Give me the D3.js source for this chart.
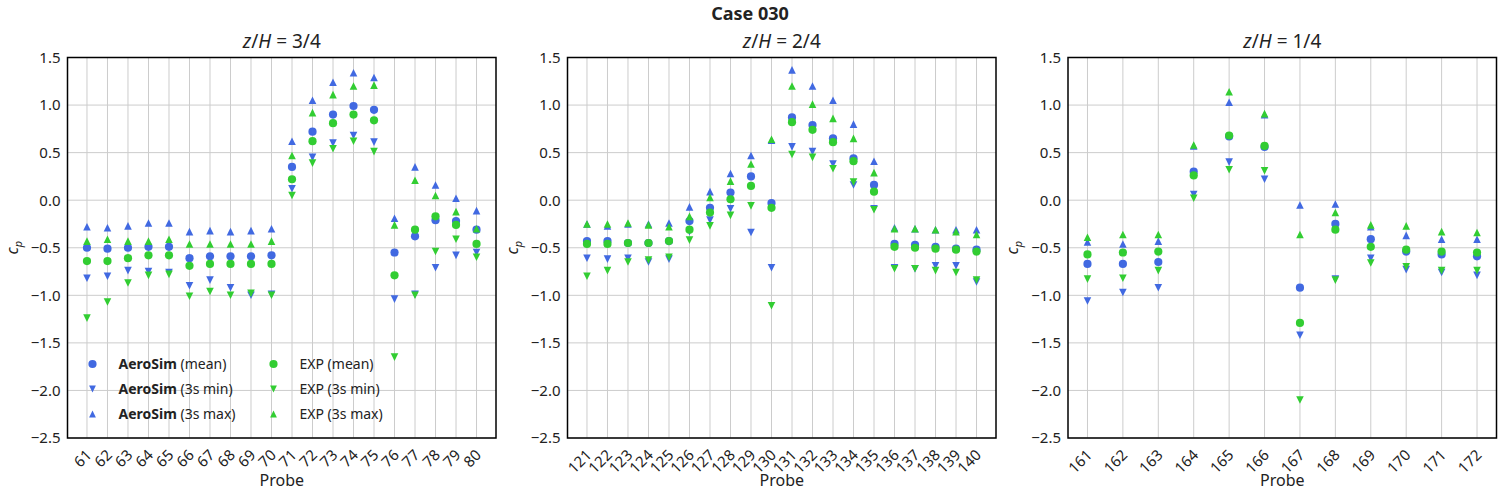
<!DOCTYPE html>
<html>
<head>
<meta charset="utf-8">
<script src="https://cdn.jsdelivr.net/npm/d3@7"></script>
<style>
  body { margin: 0; background: #fff; }
  svg { display: block; font-family: "Noto Sans", "Open Sans", sans-serif; }
</style>
</head>
<body>
<svg id="chart" width="1500" height="500"></svg>
<script>
// ---------- DATA ----------
const suptitle = "Case 030";
const panelTitles = [["3/4"], ["2/4"], ["1/4"]];
const yTicks = [1.5, 1.0, 0.5, 0.0, -0.5, -1.0, -1.5, -2.0, -2.5];

const probes1 = [61,62,63,64,65,66,67,68,69,70,71,72,73,74,75,76,77,78,79,80];
const aeroMean1 = [-0.50,-0.51,-0.50,-0.49,-0.49,-0.61,-0.59,-0.59,-0.59,-0.58,0.35,0.72,0.90,0.99,0.95,-0.55,-0.38,-0.21,-0.22,-0.31];
const aeroMin1  = [-0.82,-0.80,-0.74,-0.75,-0.76,-0.90,-0.84,-0.92,-1.00,-0.99,0.12,0.45,0.60,0.68,0.61,-1.04,-0.99,-0.71,-0.58,-0.55];
const aeroMax1  = [-0.28,-0.29,-0.27,-0.24,-0.24,-0.33,-0.32,-0.33,-0.32,-0.30,0.62,1.05,1.24,1.34,1.29,-0.19,0.35,0.16,0.02,-0.11];
const expMean1  = [-0.64,-0.64,-0.61,-0.58,-0.58,-0.69,-0.67,-0.67,-0.67,-0.67,0.22,0.62,0.81,0.90,0.84,-0.79,-0.31,-0.17,-0.26,-0.46];
const expMin1   = [-1.24,-1.07,-0.87,-0.79,-0.78,-1.01,-0.96,-1.00,-0.98,-1.00,0.05,0.39,0.54,0.62,0.51,-1.65,-1.00,-0.54,-0.41,-0.60];
const expMax1   = [-0.43,-0.41,-0.43,-0.43,-0.41,-0.46,-0.46,-0.46,-0.46,-0.43,0.47,0.92,1.11,1.20,1.21,-0.26,0.21,0.05,-0.12,-0.30];

const probes2 = [121,122,123,124,125,126,127,128,129,130,131,132,133,134,135,136,137,138,139,140];
const aeroMean2 = [-0.43,-0.43,-0.45,-0.45,-0.43,-0.22,-0.08,0.08,0.25,-0.03,0.87,0.79,0.65,0.44,0.16,-0.46,-0.47,-0.49,-0.51,-0.52];
const aeroMin2  = [-0.61,-0.62,-0.61,-0.65,-0.62,-0.33,-0.21,-0.09,-0.34,-0.71,0.56,0.51,0.38,0.16,-0.09,-0.71,-0.72,-0.69,-0.69,-0.86];
const aeroMax2  = [-0.25,-0.27,-0.25,-0.25,-0.24,-0.07,0.09,0.28,0.47,0.63,1.37,1.20,1.05,0.80,0.41,-0.29,-0.30,-0.31,-0.31,-0.31];
const expMean2  = [-0.46,-0.46,-0.45,-0.45,-0.43,-0.31,-0.13,0.01,0.15,-0.08,0.82,0.74,0.61,0.41,0.09,-0.49,-0.50,-0.51,-0.52,-0.54];
const expMin2   = [-0.80,-0.74,-0.65,-0.63,-0.60,-0.42,-0.27,-0.16,-0.06,-1.11,0.48,0.45,0.33,0.19,-0.10,-0.72,-0.72,-0.74,-0.76,-0.84];
const expMax2   = [-0.25,-0.25,-0.24,-0.26,-0.28,-0.17,0.03,0.20,0.38,0.64,1.20,1.01,0.86,0.65,0.29,-0.30,-0.30,-0.31,-0.33,-0.36];

const probes3 = [161,162,163,164,165,166,167,168,169,170,171,172];
const aeroMean3 = [-0.67,-0.67,-0.65,0.30,0.67,0.56,-0.92,-0.25,-0.41,-0.54,-0.57,-0.59];
const aeroMin3  = [-1.06,-0.97,-0.92,0.06,0.40,0.22,-1.42,-0.83,-0.61,-0.73,-0.76,-0.79];
const aeroMax3  = [-0.44,-0.46,-0.43,0.57,1.03,0.90,-0.05,-0.04,-0.28,-0.37,-0.41,-0.41];
const expMean3  = [-0.57,-0.55,-0.54,0.26,0.68,0.57,-1.29,-0.31,-0.49,-0.52,-0.54,-0.55];
const expMin3   = [-0.83,-0.82,-0.74,0.02,0.32,0.31,-2.10,-0.84,-0.66,-0.70,-0.74,-0.74];
const expMax3   = [-0.39,-0.36,-0.36,0.58,1.14,0.91,-0.36,-0.13,-0.26,-0.27,-0.33,-0.34];

const seriesNames = ["AeroSim (mean)", "AeroSim (3s min)", "AeroSim (3s max)", "EXP (mean)", "EXP (3s min)", "EXP (3s max)"];

// ---------- STYLE / LAYOUT ----------
const BLUE = "#4169E1", GREEN = "#32CD32";
const panels = [
  { probes: probes1, left: 67.5, series: [aeroMean1, aeroMin1, aeroMax1, expMean1, expMin1, expMax1], title: "3/4", legend: true },
  { probes: probes2, left: 567.5, series: [aeroMean2, aeroMin2, aeroMax2, expMean2, expMin2, expMax2], title: "2/4" },
  { probes: probes3, left: 1068, series: [aeroMean3, aeroMin3, aeroMax3, expMean3, expMin3, expMax3], title: "1/4" }
];
const W = 428.5, TOP = 57.5, BOT = 438;
const markerDefs = [
  { color: BLUE, shape: "o" }, { color: BLUE, shape: "v" }, { color: BLUE, shape: "^" },
  { color: GREEN, shape: "o" }, { color: GREEN, shape: "v" }, { color: GREEN, shape: "^" }
];
function markerPath(shape, s) {
  if (shape === "^") return `M0,${-s}L${s},${s}L${-s},${s}Z`;
  if (shape === "v") return `M0,${s}L${s},${-s}L${-s},${-s}Z`;
  return null;
}

const svg = d3.select("#chart");
svg.append("text").attr("x", 750).attr("y", 20).attr("text-anchor", "middle")
  .attr("font-size", 18).attr("font-weight", "bold").attr("fill", "#222").text(suptitle);

panels.forEach(p => {
  const n = p.probes.length;
  const margin = 0.05 * (n - 1);
  const x = d3.scaleLinear().domain([-margin, n - 1 + margin]).range([p.left, p.left + W]);
  const y = d3.scaleLinear().domain([-2.5, 1.5]).range([BOT, TOP]);
  const g = svg.append("g");

  // grid
  g.append("g").selectAll("line").data(p.probes).join("line")
    .attr("x1", (d, i) => x(i)).attr("x2", (d, i) => x(i))
    .attr("y1", TOP).attr("y2", BOT).attr("stroke", "#cccccc").attr("stroke-width", 1);
  g.append("g").selectAll("line").data(yTicks).join("line")
    .attr("x1", p.left).attr("x2", p.left + W)
    .attr("y1", d => y(d)).attr("y2", d => y(d)).attr("stroke", "#cccccc").attr("stroke-width", 1);

  // y axis via d3 axis (no tick lines)
  const yAxis = d3.axisLeft(y).tickValues(yTicks).tickSize(0).tickPadding(7)
    .tickFormat(d => d3.format(".1f")(d).replace("-", "\u2212"));
  const ya = g.append("g").attr("transform", `translate(${p.left},0)`).call(yAxis);
  ya.select(".domain").remove();
  ya.selectAll("text").attr("font-size", 15).attr("fill", "#222").attr("font-family", "Noto Sans, sans-serif");

  // x axis
  const xAxis = d3.axisBottom(x).tickValues(d3.range(n)).tickSize(0).tickFormat(i => p.probes[i]);
  const xa = g.append("g").attr("transform", `translate(0,${BOT})`).call(xAxis);
  xa.select(".domain").remove();
  xa.selectAll("text").attr("font-size", 15).attr("fill", "#222").attr("font-family", "Noto Sans, sans-serif")
    .attr("text-anchor", "end").attr("dy", null).attr("y", 0)
    .attr("transform", "translate(5,18) rotate(-45)");

  // series
  p.series.forEach((vals, si) => {
    const m = markerDefs[si];
    const sg = g.append("g");
    if (m.shape === "o") {
      sg.selectAll("circle").data(vals).join("circle")
        .attr("cx", (d, i) => x(i)).attr("cy", d => y(d)).attr("r", 4.1).attr("fill", m.color);
    } else {
      sg.selectAll("path").data(vals).join("path")
        .attr("transform", (d, i) => `translate(${x(i)},${y(d)})`)
        .attr("d", markerPath(m.shape, 3.8)).attr("fill", m.color);
    }
  });

  // frame
  g.append("rect").attr("x", p.left).attr("y", TOP).attr("width", W).attr("height", BOT - TOP)
    .attr("fill", "none").attr("stroke", "#000").attr("stroke-width", 1.5);

  // title
  const t = g.append("text").attr("x", p.left + W / 2).attr("y", 48).attr("text-anchor", "middle")
    .attr("font-size", 19).attr("fill", "#222");
  t.append("tspan").attr("font-style", "italic").text("z");
  t.append("tspan").text("/");
  t.append("tspan").attr("font-style", "italic").text("H");
  t.append("tspan").text(" = " + p.title);

  // x label
  g.append("text").attr("x", p.left + W / 2).attr("y", 486).attr("text-anchor", "middle")
    .attr("font-size", 16).attr("fill", "#222").text("Probe");

  // y label
  const yl = g.append("text").attr("transform", `translate(${p.left - 50},${(TOP + BOT) / 2}) rotate(-90)`)
    .attr("text-anchor", "middle").attr("font-size", 16).attr("fill", "#222");
  yl.append("tspan").attr("font-style", "italic").text("c");
  yl.append("tspan").attr("font-style", "italic").attr("font-size", 11).attr("dy", 4).text("p");

  // legend
  if (p.legend) {
    const cols = [p.left + 25, p.left + 206];
    const rows = [364, 389, 414];
    seriesNames.forEach((name, si) => {
      const cx = cols[Math.floor(si / 3)], cy = rows[si % 3];
      const m = markerDefs[si];
      if (m.shape === "o") g.append("circle").attr("cx", cx).attr("cy", cy).attr("r", 4.1).attr("fill", m.color);
      else g.append("path").attr("transform", `translate(${cx},${cy})`).attr("d", markerPath(m.shape, 3.4)).attr("fill", m.color);
      const tx = g.append("text").attr("x", cx + 26).attr("y", cy + 5).attr("font-size", 14).attr("fill", "#222");
      const parts = name.split(" ");
      if (parts[0] === "AeroSim") {
        tx.append("tspan").attr("font-weight", "bold").text("AeroSim");
        tx.append("tspan").text(" " + parts.slice(1).join(" "));
      } else {
        tx.text(name);
      }
    });
  }
});
</script>
</body>
</html>
